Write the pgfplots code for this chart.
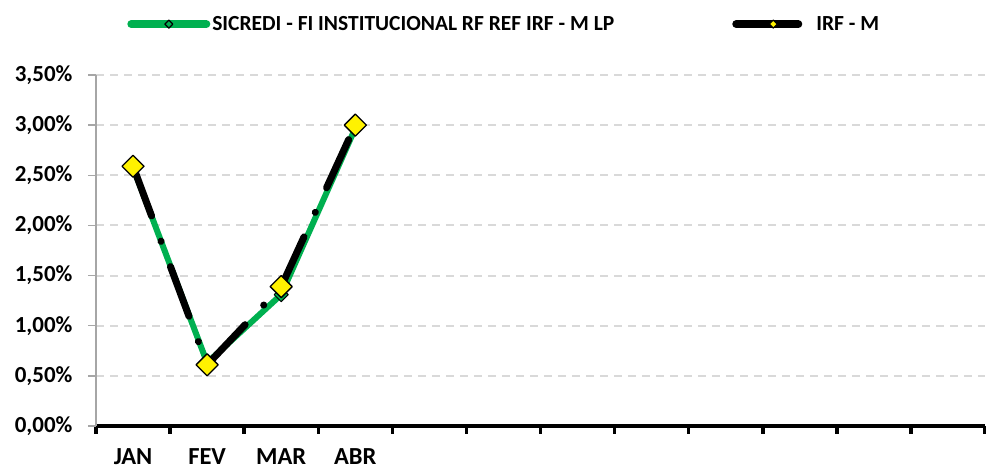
\documentclass[border=0pt]{standalone}
\usepackage{pgfplots}
\pgfplotsset{compat=1.18}
\usepackage{fontspec}
\setmainfont{Carlito}
\definecolor{sgreen}{HTML}{00B050}
\definecolor{gridgray}{HTML}{D9D9D9}
\definecolor{axgray}{HTML}{A6A6A6}
\begin{document}
\begin{tikzpicture}
\useasboundingbox (0,0) rectangle (986pt,470pt);
\begin{axis}[
  at={(96pt,44pt)}, anchor=south west,
  scale only axis, width=889pt, height=351pt,
  xmin=0, xmax=12, ymin=0, ymax=3.5,
  clip=false,
  axis x line*=bottom, axis y line*=left,
  x axis line style={black, line width=3.5pt, -},
  y axis line style={axgray, line width=1.5pt, -},
  xtick={0.5,1.5,2.5,3.5},
  xticklabels={JAN,FEV,MAR,ABR},
  major x tick style={draw=none},
  minor xtick={0,1,...,12},
  minor x tick style={black, line width=3.5pt},
  minor tick length=8pt,
  x tick label style={font=\fontsize{24.5}{29}\selectfont\bfseries, yshift=-14pt, inner sep=0.5pt},
  ytick={0,0.5,...,3.5},
  tick align=outside,
  major tick length=8pt,
  major y tick style={axgray, line width=1.5pt},
  ymajorgrids,
  grid style={gridgray, line width=2pt, dash pattern=on 8pt off 6pt},
  /pgf/number format/assume math mode=true,
  yticklabel={\pgfmathprintnumber[fixed,fixed zerofill,precision=2,use comma]{\tick}\%},
  y tick label style={font=\fontsize{23}{27}\selectfont\bfseries, xshift=-12pt},
  legend columns=2,
  legend style={draw=none, fill=none, inner sep=0pt, at={(axis description cs:0.035,1.145)}, anchor=west,
    font=\fontsize{21.5}{26}\selectfont\bfseries,
    /tikz/every even column/.append style={column sep=116pt}},
]
\addplot[sgreen, line width=6pt, line join=round,
  mark=square*, mark size=5pt,
  mark options={rotate=45, fill=sgreen, draw=black, line width=1pt, solid},
  legend image code/.code={
    \draw[sgreen, solid, line width=8pt, line cap=round] (0pt,0pt) -- (75pt,0pt);
    \draw[black, solid, fill=sgreen, line width=1.2pt] (37.5pt,0pt) +(0,4pt) -- +(4pt,0) -- +(0,-4pt) -- +(-4pt,0) -- cycle;}
] coordinates {(0.5,2.58) (1.5,0.63) (2.5,1.31) (3.5,2.97)};
\addlegendentry{SICREDI - FI INSTITUCIONAL RF REF IRF - M LP}
\addplot[black, line width=7pt, line cap=round, line join=round,
  dash pattern=on 53pt off 27pt on 0.1pt off 27pt,
  mark=square*, mark size=7.8pt,
  mark options={rotate=45, fill=yellow, draw=black, line width=1.3pt, solid},
  legend image code/.code={
    \path[draw=none, fill=none] (-4pt,0pt) -- (78pt,0pt);
    \draw[black, solid, line width=8pt, line cap=round] (0pt,0pt) -- (62pt,0pt);
    \draw[black, solid, fill=yellow, line width=1.2pt] (37pt,0pt) +(0,4pt) -- +(4pt,0) -- +(0,-4pt) -- +(-4pt,0) -- cycle;}
] coordinates {(0.5,2.59) (1.5,0.61) (2.5,1.39) (3.5,3.00)};
\addlegendentry{IRF - M}
\end{axis}
\end{tikzpicture}
\end{document}
